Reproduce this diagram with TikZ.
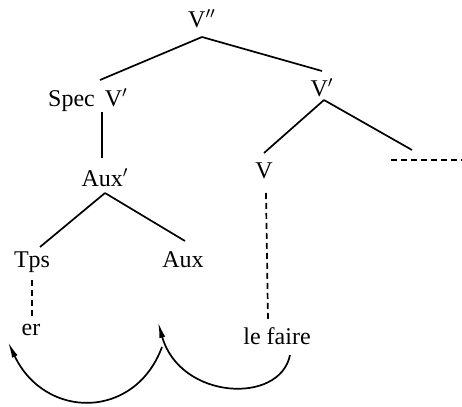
\documentclass[tikz,border=0pt]{standalone}
\usepackage{fontspec}
\setmainfont{Liberation Serif}
\usetikzlibrary{calc,arrows.meta}
\begin{document}
\begin{tikzpicture}[x=0.5pt,y=-0.5pt,
  lbl/.style={inner sep=0pt,font=\fontsize{12}{14}\selectfont},
  branch/.style={line width=0.85pt},
  trace/.style={line width=0.85pt,dash pattern=on 3pt off 2pt},
  move/.style={line width=0.85pt,-{Latex[length=8pt,width=3pt]}}]
\useasboundingbox (0,0) rectangle (462,407);
\node[lbl] (vpp) at (202,19) {V$''$};
\node[lbl] (spec) at (88,100) {Spec\hspace{2pt} V$'$};
\node[lbl] (vp) at (322,88) {V$'$};
\node[lbl] (auxp) at (105,178) {Aux$'$};
\node[lbl] (v) at (264,171) {V};
\node[lbl] (tps) at (32,262) {Tps};
\node[lbl] (aux) at (183,260) {Aux};
\node[lbl] (er) at (31,330) {er};
\node[lbl] (lf) at (277,336) {le faire};
\coordinate (r1) at (412,150);
\coordinate (d1) at (391,160);
\coordinate (d2) at (462,160);
% branches
\draw[branch] ($(vpp)+(0,18)$) -- ($(spec)+(12,-20)$);
\draw[branch] ($(vpp)+(0,18)$) -- ($(vp)+(0,-17)$);
\draw[branch] ($(spec)+(14,12)$) -- ($(auxp)+(-3,-20)$);
\draw[branch] ($(vp)+(2,12)$) -- ($(v)+(0,-18)$);
\draw[branch] ($(vp)+(2,12)$) -- (r1);
\draw[trace] (d1) -- (d2);
\draw[branch] ($(auxp)+(0,15)$) -- ($(tps)+(8,-15)$);
\draw[branch] ($(auxp)+(0,15)$) -- ($(aux)+(2,-19)$);
% traces
\draw[trace] ($(tps)+(0,18)$) -- ($(er)+(1,-14)$);
\draw[trace] ($(v)+(2,22)$) -- ($(lf)+(-9,-16)$);
% movement arrows
\coordinate (a1) at (158,322);
\draw[move] ($(lf)+(13,19)$) .. controls (280,405) and (180,400) .. (a1);
\draw[move] (162,347) .. controls (135,420) and (45,420) .. ($(er)+(-23,12)$);
\end{tikzpicture}
\end{document}
